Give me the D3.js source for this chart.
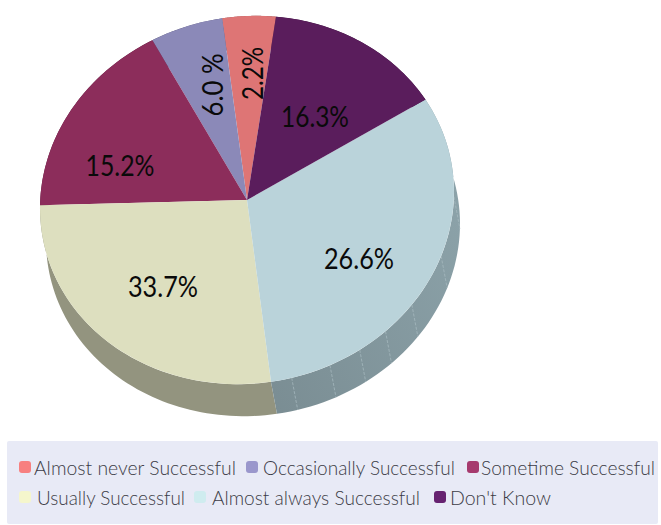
<!DOCTYPE html>
<html><head><meta charset="utf-8">
<script src="https://cdn.jsdelivr.net/npm/d3@7"></script>
<style>html,body{margin:0;padding:0;background:#fff}svg{display:block}</style>
</head><body><svg id="c" width="661" height="525"></svg>
<script>
const categories = ["Almost never Successful","Occasionally Successful","Sometime Successful","Usually Successful","Almost always Successful","Don't Know"];
const drawnShares = [4.15, 5.64, 17.17, 27.1, 31.6, 14.3];
const labelTexts = ["2.2%","6.0 %","15.2%","33.7%","26.6%","16.3%"];
const topColors = ["#de7575","#8b89b8","#8c2d5b","#dddfbf","#bad3da","#5a1d5c"];
const sideColors = ["#8f5050","#5f5e80","#5f1f3e","#93947f","#83989f","#3d143f"];
const legendColors = ["#f78080","#9a97cc","#a63a6e","#f5f6cc","#cfecef","#662270"];
const facetShares = [55.7, 58.8, 61.4, 63.9, 66.9, 71.6, 76.8];

const cx=247, cy=200, rx=207, ry=184, ox=6, oy=32, startDeg=8.05, skew=0.045;
const startAngle = startDeg*Math.PI/180;
const svg = d3.select("#c");
const share = d3.scaleLinear().domain([0,100]).range([startAngle,startAngle-2*Math.PI]);
const pie = d3.pie().sort(null).startAngle(startAngle).endAngle(startAngle-2*Math.PI);
const arcs = pie(drawnShares);
const px = t => Math.sin(t)*rx, py = t => -Math.cos(t)*ry - skew*ry*Math.sin(t);
const arc = d3.arc().innerRadius(0).outerRadius(1);

const defs = svg.append("defs");
const grad = defs.append("linearGradient").attr("id","bside").attr("x1",0).attr("y1",1).attr("x2",1).attr("y2",0);
grad.append("stop").attr("offset","0%").attr("stop-color","#7a8d93");
grad.append("stop").attr("offset","100%").attr("stop-color","#8fa6ad");

const line = d3.line();
const g = svg.append("g").attr("transform",`translate(${cx},${cy})`);
const side = g.append("g");
side.selectAll("path").data(arcs).join("path")
  .attr("d", d => {
    const ts = d3.range(0,61).map(i => d.startAngle+(d.endAngle-d.startAngle)*i/60);
    const top = ts.map(t => [px(t),py(t)]);
    const bot = ts.slice().reverse().map(t => [px(t)+ox,py(t)+oy]);
    return line(top.concat(bot))+"Z";
  })
  .attr("fill",(d,i)=> i===4 ? "url(#bside)" : sideColors[i]);
side.selectAll("line").data(facetShares).join("line")
  .attr("x1",s=>px(share(s))).attr("y1",s=>py(share(s)))
  .attr("x2",s=>px(share(s))+ox).attr("y2",s=>py(share(s))+oy)
  .attr("stroke","#a9bcc1").attr("stroke-width",0.7).attr("stroke-dasharray","3 1.5");
g.append("g").attr("transform",`matrix(${rx},${-skew*ry},0,${ry},0,0)`)
 .selectAll("path").data(arcs).join("path")
  .attr("d",arc).attr("fill",(d,i)=>topColors[i]);

const labelFont = "Lato, 'Open Sans', sans-serif";
const labelAnchors = [[251,73.5,-90],[211,85,-90],[120,164,0],[163,285,0],[359,257,0],[315,115,0]];
svg.append("g").selectAll("text").data(labelTexts).join("text")
  .attr("transform",(d,i)=>`translate(${labelAnchors[i][0]},${labelAnchors[i][1]}) rotate(${labelAnchors[i][2]})`)
  .attr("text-anchor","middle").attr("dominant-baseline","central")
  .attr("font-family",labelFont).attr("font-size",29).attr("fill","#0a0a0a")
  .attr("textLength",(d,i)=>[53,63,69,70,70,68][i]).attr("lengthAdjust","spacingAndGlyphs")
  .text(d=>d);

svg.append("rect").attr("x",7).attr("y",441).attr("width",651).attr("height",83).attr("rx",2).attr("fill","#e8eaf6");
const legendLayout = [
  {box:19, text:34, end:236, y:467},
  {box:246,text:263,end:455, y:467},
  {box:467,text:481,end:655, y:467},
  {box:19, text:37, end:185, y:497},
  {box:194,text:212,end:420, y:497},
  {box:434,text:450,end:551, y:497}];
const lg = svg.append("g");
lg.selectAll("rect").data(categories).join("rect")
  .attr("x",(d,i)=>legendLayout[i].box).attr("y",(d,i)=>legendLayout[i].y-6)
  .attr("width",12).attr("height",12).attr("rx",3).attr("fill",(d,i)=>legendColors[i]);
lg.selectAll("text").data(categories).join("text")
  .attr("x",(d,i)=>legendLayout[i].text).attr("y",(d,i)=>legendLayout[i].y)
  .attr("dominant-baseline","central")
  .attr("font-family",labelFont).attr("font-weight",300).attr("font-size",20).attr("fill","#3c3c46")
  .attr("textLength",(d,i)=>legendLayout[i].end-legendLayout[i].text).attr("lengthAdjust","spacingAndGlyphs")
  .text(d=>d);
</script></body></html>
